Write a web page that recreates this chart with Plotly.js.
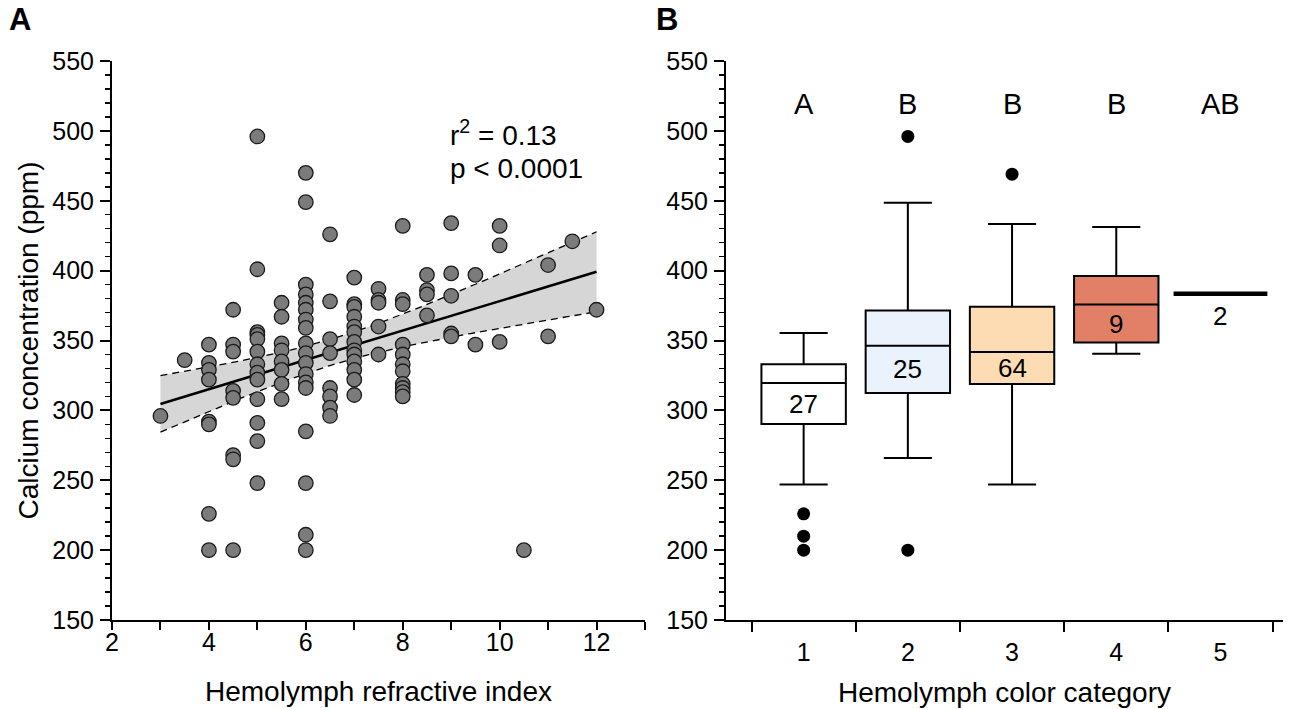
<!DOCTYPE html>
<html>
<head>
<meta charset="utf-8">
<script src="https://cdn.plot.ly/plotly-3.0.1.min.js"></script>
<style>
  html, body { margin: 0; padding: 0; background: #ffffff; }
  #chart { width: 1304px; height: 709px; }
</style>
</head>
<body>
<div id="chart"></div>
<script>
// ---------------- Panel A data: refractive index vs calcium (ppm) ----------------
const refractiveIndex = [
  3,
  3.5,
  4, 4, 4, 4, 4, 4, 4, 4,
  4.5, 4.5, 4.5, 4.5, 4.5, 4.5, 4.5, 4.5,
  5, 5, 5, 5, 5, 5, 5, 5, 5, 5, 5, 5, 5,
  5.5, 5.5, 5.5, 5.5, 5.5, 5.5, 5.5, 5.5,
  6, 6, 6, 6, 6, 6, 6, 6, 6, 6, 6, 6, 6, 6, 6, 6, 6, 6,
  6.5, 6.5, 6.5, 6.5, 6.5, 6.5, 6.5, 6.5,
  7, 7, 7, 7, 7, 7, 7, 7, 7, 7, 7, 7, 7,
  7.5, 7.5, 7.5, 7.5, 7.5,
  8, 8, 8, 8, 8, 8, 8, 8, 8, 8, 8,
  8.5, 8.5, 8.5, 8.5,
  9, 9, 9, 9, 9,
  9.5, 9.5,
  10, 10, 10,
  10.5,
  11, 11,
  11.5,
  12
];
const calcium = [
  296,
  336,
  347, 334, 329, 322, 292, 290, 226, 200,
  372, 347, 342, 314, 309, 268, 265, 200,
  496, 401, 356, 354, 351, 342, 333, 327, 322, 308, 291, 278, 248,
  377, 367, 348, 343, 335, 329, 319, 308,
  470, 449, 390, 383, 377, 372, 365, 359, 348, 341, 334, 326, 320, 316, 285, 248, 211, 200,
  426, 378, 351, 341, 316, 310, 302, 296,
  395, 376, 374, 367, 360, 356, 349, 343, 340, 335, 329, 322, 311,
  387, 379, 377, 360, 340,
  432, 379, 376, 347, 340, 333, 328, 319, 316, 313, 310,
  397, 386, 383, 368,
  434, 398, 382, 355, 353,
  397, 347,
  432, 418, 349,
  200,
  404, 353,
  421,
  372
];
const statsText = ['r<sup>2</sup> = 0.13', 'p < 0.0001'];

// ---------------- Panel B data: colour category box summaries ----------------
const colorCategory = [1, 2, 3, 4, 5];
const boxLowerWhisker = [247, 266, 247, 340.5, 383.5];
const boxQ1 = [290.3, 312.4, 318.9, 348.6, 383.5];
const boxMedian = [319.5, 346.3, 341.8, 375.7, 383.5];
const boxQ3 = [333, 371.5, 374.1, 396.2, 383.5];
const boxUpperWhisker = [355.4, 448.5, 433.4, 431.3, 383.5];
const groupN = [27, 25, 64, 9, 2];
const groupLetters = ['A', 'B', 'B', 'B', 'AB'];
const outlierCategory = [1, 1, 1, 2, 2, 3];
const outlierValues = [226, 210, 200, 496, 200, 469];
const boxFill = ['#ffffff', '#eaf3fb', '#fddcb3', '#e27f67', '#ffffff'];

// ---------------- Linear regression with 95% confidence band ----------------
const n = refractiveIndex.length;
const mx = refractiveIndex.reduce((a, b) => a + b, 0) / n;
const my = calcium.reduce((a, b) => a + b, 0) / n;
let sxx = 0, sxy = 0;
for (let i = 0; i < n; i++) {
  sxx += (refractiveIndex[i] - mx) ** 2;
  sxy += (refractiveIndex[i] - mx) * (calcium[i] - my);
}
const slope = sxy / sxx;
const intercept = my - slope * mx;
let sse = 0;
for (let i = 0; i < n; i++) sse += (calcium[i] - (intercept + slope * refractiveIndex[i])) ** 2;
const s = Math.sqrt(sse / (n - 2));
const tcrit = 1.98;
const xmin = Math.min(...refractiveIndex), xmax = Math.max(...refractiveIndex);
const fitX = [], fitY = [], upY = [], loY = [];
for (let k = 0; k <= 90; k++) {
  const xv = xmin + (xmax - xmin) * k / 90;
  const yv = intercept + slope * xv;
  const half = tcrit * s * Math.sqrt(1 / n + (xv - mx) ** 2 / sxx);
  fitX.push(xv); fitY.push(yv); upY.push(yv + half); loY.push(yv - half);
}

const FONT = 'Liberation Sans, Arial, Helvetica, sans-serif';
const TICK = 25;
const TITLE = 28;

const traces = [
  { x: fitX, y: upY, xaxis: 'x', yaxis: 'y', mode: 'lines', line: { width: 0, color: 'rgba(0,0,0,0)' },
    hoverinfo: 'skip', showlegend: false },
  { x: fitX, y: loY, xaxis: 'x', yaxis: 'y', mode: 'lines', line: { width: 0, color: 'rgba(0,0,0,0)' },
    fill: 'tonexty', fillcolor: '#d6d6d6', hoverinfo: 'skip', showlegend: false },
  { x: fitX, y: upY, xaxis: 'x', yaxis: 'y', mode: 'lines', line: { width: 1.3, color: '#000', dash: '7px,5px' },
    hoverinfo: 'skip', showlegend: false },
  { x: fitX, y: loY, xaxis: 'x', yaxis: 'y', mode: 'lines', line: { width: 1.3, color: '#000', dash: '7px,5px' },
    hoverinfo: 'skip', showlegend: false },
  { x: fitX, y: fitY, xaxis: 'x', yaxis: 'y', mode: 'lines', line: { width: 2.6, color: '#000' },
    hoverinfo: 'skip', showlegend: false },
  { x: refractiveIndex, y: calcium, xaxis: 'x', yaxis: 'y', type: 'scatter', mode: 'markers',
    marker: { size: 14.5, color: '#7b7b7b', line: { color: '#1a1a1a', width: 1.3 } },
    name: 'samples', showlegend: false }
];

for (let i = 0; i < colorCategory.length; i++) {
  const flat = boxQ1[i] === boxQ3[i];
  traces.push({
    type: 'box', xaxis: 'x2', yaxis: 'y2',
    x: [colorCategory[i]],
    q1: [boxQ1[i]], median: [boxMedian[i]], q3: [boxQ3[i]],
    lowerfence: [boxLowerWhisker[i]], upperfence: [boxUpperWhisker[i]],
    fillcolor: boxFill[i],
    line: { color: '#000', width: flat ? 4.5 : 2 },
    width: flat ? 0.9 : 0.81,
    whiskerwidth: 0.57,
    boxpoints: false,
    showlegend: false,
    name: String(colorCategory[i])
  });
}
traces.push({
  x: outlierCategory, y: outlierValues, xaxis: 'x2', yaxis: 'y2', type: 'scatter', mode: 'markers',
  marker: { size: 13, color: '#000' }, showlegend: false, name: 'outliers'
});

const annotations = [
  { text: '<b>A</b>', xref: 'paper', yref: 'paper', x: -0.0895, y: 1.0735, xanchor: 'left', yanchor: 'middle',
    showarrow: false, font: { family: FONT, size: 31, color: '#000' } },
  { text: '<b>B</b>', xref: 'paper', yref: 'paper', x: 0.4625, y: 1.0735, xanchor: 'left', yanchor: 'middle',
    showarrow: false, font: { family: FONT, size: 31, color: '#000' } },
  { text: statsText[0], xref: 'x', yref: 'y', x: 8.93, y: 498.5, xanchor: 'left', yanchor: 'middle',
    showarrow: false, font: { family: FONT, size: TITLE, color: '#000' } },
  { text: statsText[1], xref: 'x', yref: 'y', x: 8.93, y: 473.2, xanchor: 'left', yanchor: 'middle',
    showarrow: false, font: { family: FONT, size: TITLE, color: '#000' } }
];
for (let i = 0; i < colorCategory.length; i++) {
  annotations.push({ text: groupLetters[i], xref: 'x2', yref: 'y2', x: colorCategory[i], y: 519,
    showarrow: false, xanchor: 'center', yanchor: 'middle', font: { family: FONT, size: 29, color: '#000' } });
  const flat = boxQ1[i] === boxQ3[i];
  annotations.push({ text: String(groupN[i]), xref: 'x2', yref: 'y2', x: colorCategory[i],
    y: flat ? boxMedian[i] - 16 : (boxMedian[i] + boxQ1[i]) / 2,
    showarrow: false, xanchor: 'center', yanchor: 'middle', font: { family: FONT, size: 26, color: '#000' } });
}

const yAxisCommon = {
  range: [150, 550], dtick: 50, tick0: 150, ticks: 'outside', ticklen: 10, tickwidth: 2, tickcolor: '#000',
  showline: true, linewidth: 2, linecolor: '#000', showgrid: false, zeroline: false,
  tickfont: { family: FONT, size: TICK, color: '#000' }, ticklabelstandoff: 1,
  minor: { dtick: 10, ticks: 'outside', ticklen: 5, tickwidth: 1.5, tickcolor: '#000', showgrid: false },
  fixedrange: true
};

const layout = {
  width: 1304, height: 709,
  paper_bgcolor: '#ffffff', plot_bgcolor: '#ffffff',
  margin: { l: 112, r: 21, t: 61, b: 89, pad: 0 },
  showlegend: false,
  font: { family: FONT, color: '#000' },
  xaxis: {
    domain: [0, 0.45517], anchor: 'y', range: [2, 13], tick0: 2, dtick: 2,
    ticks: 'outside', ticklen: 8, tickwidth: 2, tickcolor: '#000',
    showline: true, linewidth: 2, linecolor: '#000', showgrid: false, zeroline: false,
    tickfont: { family: FONT, size: TICK, color: '#000' }, ticklabelstandoff: -9,
    minor: { dtick: 1, tick0: 3, ticks: 'outside', ticklen: 8, tickwidth: 2, tickcolor: '#000', showgrid: false },
    title: { text: 'Hemolymph refractive index', font: { family: FONT, size: TITLE, color: '#000' }, standoff: 26 },
    fixedrange: true
  },
  yaxis: Object.assign({}, yAxisCommon, {
    domain: [0, 1], anchor: 'x',
    title: { text: 'Calcium concentration (ppm)', font: { family: FONT, size: TITLE, color: '#000' }, standoff: 5 }
  }),
  xaxis2: {
    domain: [0.52434, 1], anchor: 'y2', range: [0.255, 5.6],
    tickvals: colorCategory, ticktext: colorCategory.map(String), ticks: '',
    showline: true, linewidth: 2, linecolor: '#000', showgrid: false, zeroline: false,
    tickfont: { family: FONT, size: TICK, color: '#000' }, ticklabelstandoff: 9,
    minor: { tick0: 0.5, dtick: 1, ticks: 'outside', ticklen: 10, tickwidth: 2, tickcolor: '#000', showgrid: false },
    title: { text: 'Hemolymph color category', font: { family: FONT, size: TITLE, color: '#000' }, standoff: 17 },
    fixedrange: true
  },
  yaxis2: Object.assign({}, yAxisCommon, { domain: [0, 1], anchor: 'x2' }),
  annotations: annotations
};

Plotly.newPlot('chart', traces, layout, { staticPlot: true, displayModeBar: false });
</script>
</body>
</html>
